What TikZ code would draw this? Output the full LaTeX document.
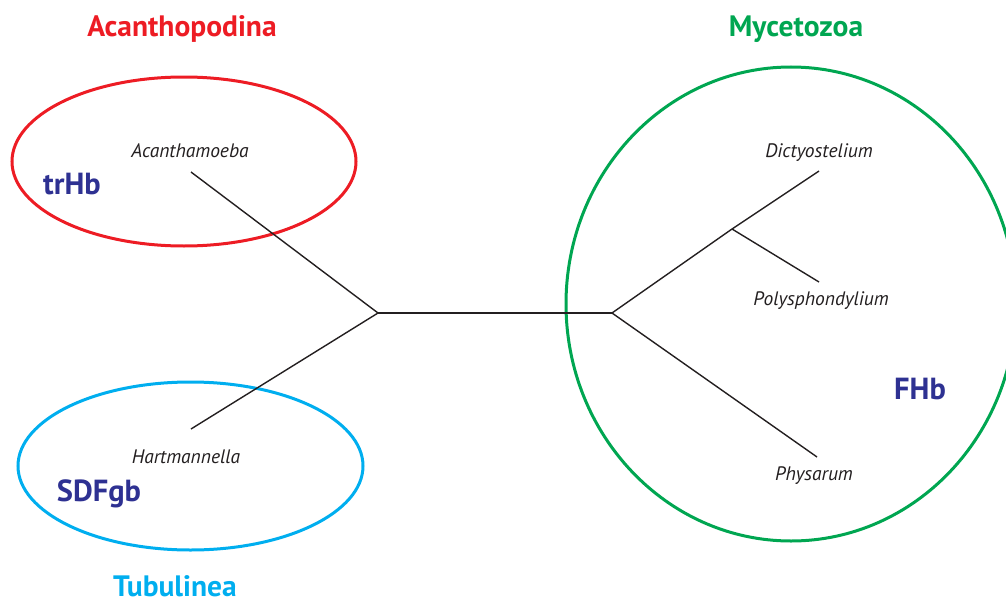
\documentclass[tikz,border=0pt]{standalone}
\usepackage{fontspec}
\setmainfont{PT Sans}
\definecolor{cred}{HTML}{ED1C24}
\definecolor{cgreen}{HTML}{00A651}
\definecolor{ccyan}{HTML}{00AEEF}
\definecolor{cnavy}{HTML}{2E3192}
\definecolor{cgray}{HTML}{231F20}
\tikzset{
  group/.style={font=\fontsize{29.5}{32}\selectfont\bfseries, anchor=base, inner sep=0pt},
  taxon/.style={font=\fontsize{19.5}{22}\selectfont\itshape, text=cgray, anchor=base, inner sep=0pt},
  globin/.style={font=\fontsize{30.5}{33}\selectfont\bfseries, text=cnavy, anchor=base, inner sep=0pt},
  branch/.style={draw=cgray, line width=1.4pt},
  ring/.style={line width=3pt},
}
\begin{document}
\begin{tikzpicture}[x=1pt,y=-1pt]
\useasboundingbox (0,0) rectangle (1006,602);
\begin{scope}
\clip (0,0) rectangle (1006,602);
\draw[ring, cred] (184,161.5) ellipse [x radius=172, y radius=84.5];
\draw[ring, ccyan] (190.5,466) ellipse [x radius=172.5, y radius=84];
\draw[ring, cgreen] (791,304) ellipse [x radius=225, y radius=237];
\end{scope}
% tree
\coordinate (L) at (378,313);
\coordinate (R) at (612,313);
\coordinate (B) at (732,229);
\coordinate (eAc) at (191,172);
\coordinate (eHa) at (191,429);
\coordinate (eDi) at (819,171);
\coordinate (ePo) at (819,282);
\coordinate (ePh) at (817,457);
\draw[branch] (L) -- (R);
\draw[branch] (L) -- (eAc);
\draw[branch] (L) -- (eHa);
\draw[branch] (R) -- (B);
\draw[branch] (B) -- (eDi);
\draw[branch] (B) -- (ePo);
\draw[branch] (R) -- (ePh);
% labels
\node[group, text=cred] (acp) at (182,37) {Acanthopodina};
\node[group, text=cgreen] (myc) at (796,37) {Mycetozoa};
\node[group, text=ccyan] (tub) at (175,596) {Tubulinea};
\node[taxon] (ac) at (190,157) {Acanthamoeba};
\node[taxon] (ha) at (186,463) {Hartmannella};
\node[taxon] (di) at (819,157) {Dictyostelium};
\node[taxon] (po) at (821,305) {Polysphondylium};
\node[taxon] (ph) at (814,480) {Physarum};
\node[globin] (tr) at (72,194) {trHb};
\node[globin] (sd) at (99,501) {SDFgb};
\node[globin] (fh) at (920,399) {FHb};
\end{tikzpicture}
\end{document}
